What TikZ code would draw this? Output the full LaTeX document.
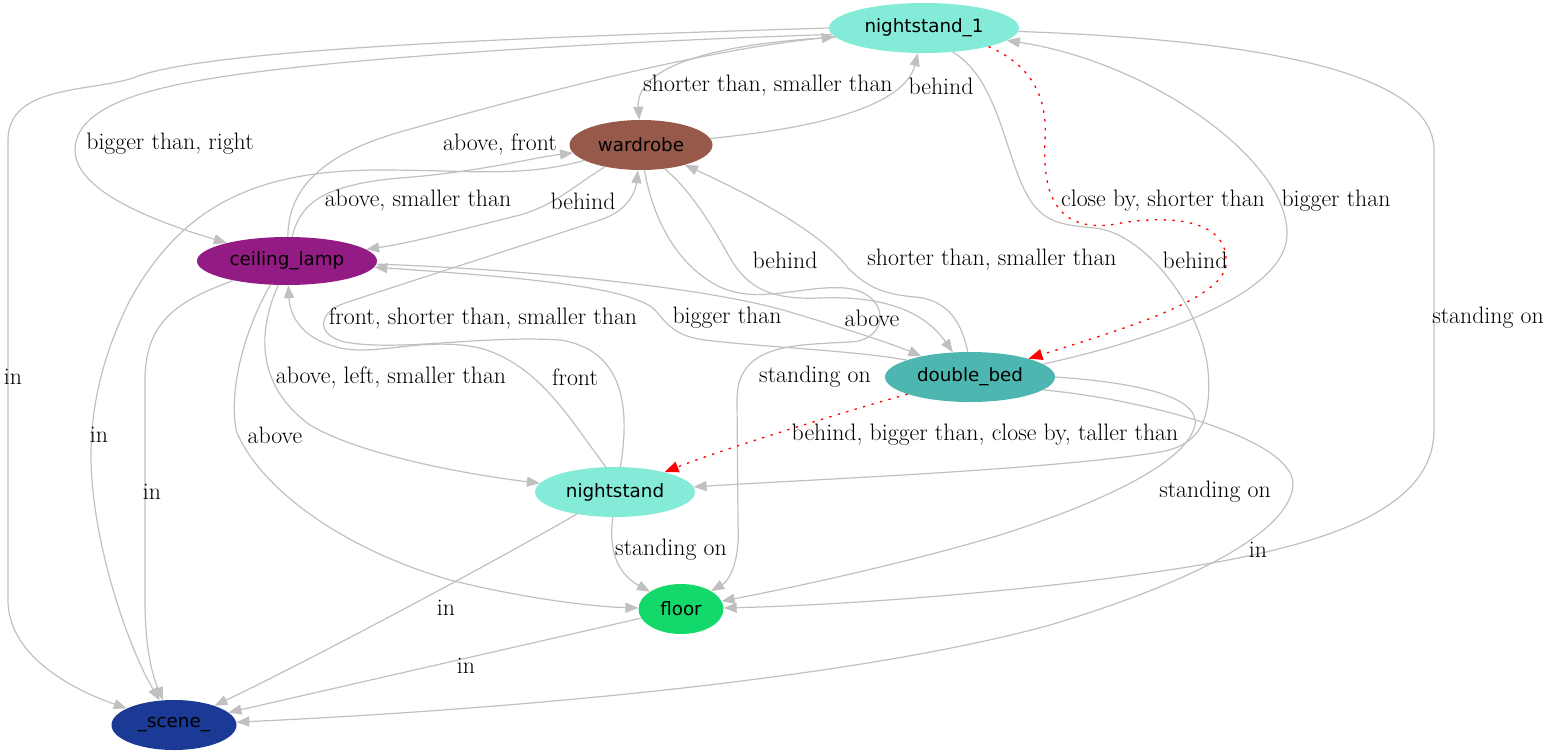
\documentclass[tikz,border=0pt]{standalone}
\usepackage{fontspec}
\usepackage{tikz}
\usetikzlibrary{arrows.meta,shapes.geometric}

\newfontfamily\objfont{DejaVu Sans}
\definecolor{relgray}{HTML}{C0C0C0}
\definecolor{nightcol}{HTML}{83EBD8}
\definecolor{wardcol}{HTML}{975A4A}
\definecolor{lampcol}{HTML}{921C84}
\definecolor{bedcol}{HTML}{4DB6B0}
\definecolor{floorcol}{HTML}{13D96A}
\definecolor{scenecol}{HTML}{1B3A96}

\begin{document}
\begin{tikzpicture}[x=1pt,y=-1pt,
        obj/.style={ellipse,inner sep=0pt,font=\objfont\fontsize{18.3}{21}\selectfont},
        lbl/.style={inner sep=0pt,font=\fontsize{23.8}{26}\selectfont},
        relline/.style={draw=relgray,line width=1.2pt,-{Triangle[length=13pt,width=10pt]}},
        closeline/.style={draw=red,line width=1.3pt,dash pattern=on 2.4pt off 6.4pt,-{Triangle[length=14pt,width=11pt]}}]
        \useasboundingbox (0,0) rectangle (1552,755);
        % objects
        \node[obj,fill=nightcol,minimum width=190pt,minimum height=50pt] (ns1) at (924,28) {nightstand\_1};
        \node[obj,fill=wardcol,minimum width=143pt,minimum height=50pt] (wd) at (641,145) {wardrobe};
        \node[obj,fill=lampcol,minimum width=180pt,minimum height=48pt] (cl) at (287,261) {ceiling\_lamp};
        \node[obj,fill=bedcol,minimum width=170pt,minimum height=50pt] (db) at (970,377) {double\_bed};
        \node[obj,fill=nightcol,minimum width=160pt,minimum height=50pt] (ns) at (615,492) {nightstand};
        \node[obj,fill=floorcol,minimum width=85pt,minimum height=50pt] (fl) at (681,609) {floor};
        \node[obj,fill=scenecol,minimum width=125pt,minimum height=50pt] (sc) at (174,725) {\_scene\_};
        % relations
        \draw[relline] (ns1.180) .. controls (500,38) and (200,50) .. (133,78) .. controls (90,92) and (8,85) .. (8,140) -- (8,600) .. controls (8,650) and (60,685) .. (sc);
        \node[lbl] (l_ns1_sc) at (13,377) {in};
        \draw[relline] (ns1.184) .. controls (600,42) and (280,60) .. (167,87) .. controls (110,100) and (75,120) .. (75,150) .. controls (75,190) and (150,220) .. (cl);
        \node[lbl] (l_ns1_cl) at (170,144) {bigger than, right};
        \draw[relline] (ns1.186) .. controls (740,42) and (635,60) .. (wd);
        \node[lbl] (l_ns1_wd) at (768,86) {shorter than, smaller than};
        \draw[relline] (wd) .. controls (820,128) and (905,105) .. (ns1);
        \node[lbl] (l_wd_ns1) at (941,86) {behind};
        \draw[relline] (cl.88) .. controls (288,190) and (320,155) .. (400,132) .. controls (520,98) and (700,50) .. (ns1);
        \node[lbl] (l_cl_ns1) at (500,144) {above, front};
        \draw[relline] (cl.78) .. controls (300,205) and (320,185) .. (400,178) .. controls (480,172) and (530,158) .. (wd);
        \node[lbl] (l_cl_wd) at (418,201) {above, smaller than};
        \draw[relline] (wd) .. controls (575,185) and (555,205) .. (520,215) .. controls (460,230) and (410,243) .. (cl);
        \node[lbl] (l_wd_cl) at (583,201) {behind};
        \draw[relline] (wd) .. controls (520,178) and (470,170) .. (380,170) .. controls (250,170) and (180,210) .. (130,300) .. controls (95,370) and (88,430) .. (92,480) .. controls (98,560) and (130,650) .. (sc);
        \node[lbl] (l_wd_sc) at (99,435) {in};
        \draw[relline] (cl.200) .. controls (180,300) and (145,320) .. (145,380) -- (145,600) .. controls (145,640) and (150,670) .. (sc);
        \node[lbl] (l_cl_sc) at (152,492) {in};
        \draw[relline] (cl.235) .. controls (250,320) and (228,380) .. (236,430) .. controls (255,480) and (330,545) .. (450,580) .. controls (530,600) and (600,607) .. (fl);
        \node[lbl] (l_cl_fl) at (275,435) {above};
        \draw[relline] (cl.250) .. controls (258,330) and (255,385) .. (310,425) .. controls (360,455) and (470,475) .. (ns);
        \node[lbl] (l_cl_ns) at (391,377) {above, left, smaller than};
        \draw[relline] (ns.110) .. controls (570,420) and (540,365) .. (480,348) .. controls (420,335) and (370,360) .. (330,345) .. controls (300,335) and (290,315) .. (cl);
        \node[lbl] (l_ns_cl) at (575,377) {front};
        \draw[relline] (ns.78) .. controls (630,410) and (625,350) .. (560,340) .. controls (480,335) and (400,352) .. (345,342) .. controls (315,335) and (318,312) .. (345,303) .. controls (430,275) and (515,248) .. (600,220) .. controls (625,212) and (635,195) .. (wd);
        \node[lbl] (l_ns_wd) at (483,318) {front, shorter than, smaller than};
        \draw[relline] (db.95) .. controls (962,325) and (950,300) .. (915,297) .. controls (880,294) and (865,285) .. (848,268) .. controls (820,230) and (740,190) .. (wd);
        \node[lbl] (l_db_wd) at (992,260) {shorter than, smaller than};
        \draw[relline] (wd.315) .. controls (690,190) and (712,225) .. (730,258) .. controls (748,288) and (770,300) .. (820,298) .. controls (870,296) and (920,305) .. (db);
        \node[lbl] (l_wd_db) at (785,260) {behind};
        \draw[relline] (wd.278) .. controls (652,215) and (675,265) .. (720,287) .. controls (760,305) and (800,285) .. (845,288) .. controls (890,292) and (892,340) .. (850,342) .. controls (790,345) and (737,345) .. (737,400) -- (738,525) .. controls (740,560) and (730,580) .. (fl);
        \node[lbl] (l_wd_fl) at (815,377) {standing on};
        \draw[relline] (cl.-2) .. controls (500,268) and (700,285) .. (790,312) .. controls (850,330) and (895,345) .. (db);
        \node[lbl] (l_cl_db) at (872,318) {above};
        \draw[relline] (db.165) .. controls (850,350) and (760,347) .. (705,340) .. controls (675,336) and (668,325) .. (655,310) .. controls (630,285) and (500,276) .. (cl);
        \node[lbl] (l_db_cl) at (727,318) {bigger than};
        \draw[relline] (db.10) .. controls (1130,345) and (1285,300) .. (1287,235) .. controls (1289,160) and (1150,62) .. (ns1);
        \node[lbl] (l_db_ns1) at (1336,201) {bigger than};
        \draw[closeline] (ns1.344) .. controls (1030,65) and (1048,95) .. (1045,140) .. controls (1042,200) and (1060,230) .. (1110,225) .. controls (1160,215) and (1230,215) .. (1226,265) .. controls (1222,300) and (1120,330) .. (db);
        \node[lbl] (l_ns1_db) at (1163,201) {close by, shorter than};
        \draw[closeline] (db) .. controls (850,410) and (720,450) .. (ns);
        \node[lbl] (l_db_ns) at (985,435) {behind, bigger than, close by, taller than};
        \draw[relline] (db.0) .. controls (1130,382) and (1200,395) .. (1195,425) .. controls (1188,460) and (1110,500) .. (1000,535) .. controls (900,565) and (780,590) .. (fl);
        \node[lbl] (l_db_fl) at (1215,492) {standing on};
        \draw[relline] (ns1.320) .. controls (1000,80) and (1005,160) .. (1030,200) .. controls (1045,222) and (1060,225) .. (1095,228) .. controls (1140,232) and (1200,300) .. (1208,370) .. controls (1212,420) and (1200,445) .. (1160,452) .. controls (1050,470) and (800,480) .. (ns);
        \node[lbl] (l_ns1_ns) at (1195,260) {behind};
        \draw[relline] (ns1) .. controls (1200,38) and (1434,60) .. (1434,150) -- (1434,430) .. controls (1434,500) and (1350,540) .. (1200,565) .. controls (1050,590) and (850,605) .. (fl);
        \node[lbl] (l_ns1_fl) at (1488,318) {standing on};
        \draw[relline] (db.-10) .. controls (1150,400) and (1295,440) .. (1293,485) .. controls (1290,530) and (1200,580) .. (1050,625) .. controls (850,680) and (500,710) .. (sc);
        \node[lbl] (l_db_sc) at (1258,550) {in};
        \draw[relline] (ns.265) .. controls (608,555) and (620,575) .. (fl);
        \node[lbl] (l_ns_fl) at (671,550) {standing on};
        \draw[relline] (ns) .. controls (480,570) and (300,665) .. (sc);
        \node[lbl] (l_ns_sc) at (446,608) {in};
        \draw[relline] (fl) -- (sc);
        \node[lbl] (l_fl_sc) at (466,666) {in};
\end{tikzpicture}
\end{document}
